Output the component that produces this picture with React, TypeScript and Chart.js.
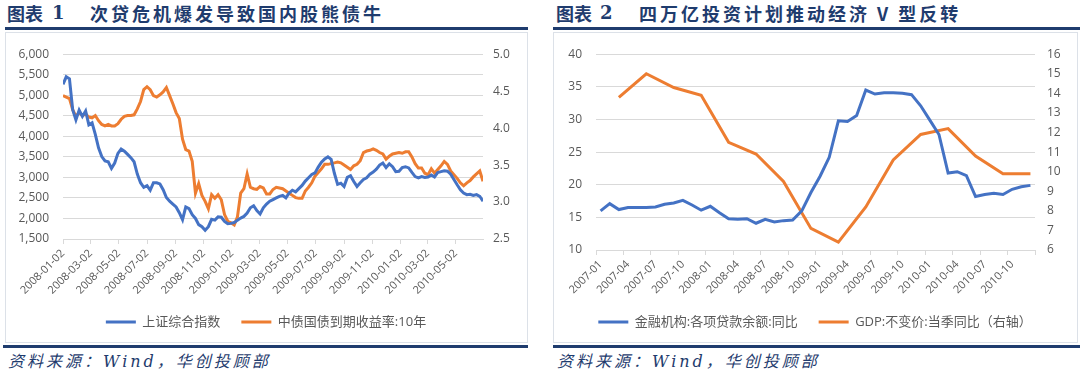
import React, { useEffect, useRef } from 'react';
import { Chart, registerables } from 'chart.js';
Chart.register(...registerables);

// ---------- Chart 1 data ----------
const weekDates = [
  '2008-01-02','2008-01-09','2008-01-16','2008-01-23','2008-01-30','2008-02-06','2008-02-13','2008-02-20','2008-02-27','2008-03-05',
  '2008-03-12','2008-03-19','2008-03-26','2008-04-02','2008-04-09','2008-04-16','2008-04-23','2008-04-30','2008-05-07','2008-05-14',
  '2008-05-21','2008-05-28','2008-06-04','2008-06-11','2008-06-18','2008-06-25','2008-07-02','2008-07-09','2008-07-16','2008-07-23',
  '2008-07-30','2008-08-06','2008-08-13','2008-08-20','2008-08-27','2008-09-03','2008-09-10','2008-09-17','2008-09-24','2008-10-01',
  '2008-10-08','2008-10-15','2008-10-22','2008-10-29','2008-11-05','2008-11-12','2008-11-19','2008-11-26','2008-12-03','2008-12-10',
  '2008-12-17','2008-12-24','2008-12-31','2009-01-07','2009-01-14','2009-01-21','2009-01-28','2009-02-04','2009-02-11','2009-02-18',
  '2009-02-25','2009-03-04','2009-03-11','2009-03-18','2009-03-25','2009-04-01','2009-04-08','2009-04-15','2009-04-22','2009-04-29',
  '2009-05-06','2009-05-13','2009-05-20','2009-05-27','2009-06-03','2009-06-10','2009-06-17','2009-06-24','2009-07-01','2009-07-08',
  '2009-07-15','2009-07-22','2009-07-29','2009-08-05','2009-08-12','2009-08-19','2009-08-26','2009-09-02','2009-09-09','2009-09-16',
  '2009-09-23','2009-09-30','2009-10-07','2009-10-14','2009-10-21','2009-10-28','2009-11-04','2009-11-11','2009-11-18','2009-11-25',
  '2009-12-02','2009-12-09','2009-12-16','2009-12-23','2009-12-30','2010-01-06','2010-01-13','2010-01-20','2010-01-27','2010-02-03',
  '2010-02-10','2010-02-17','2010-02-24','2010-03-03','2010-03-10','2010-03-17','2010-03-24','2010-03-31','2010-04-07','2010-04-14',
  '2010-04-21','2010-04-28','2010-05-05','2010-05-12','2010-05-19','2010-05-26','2010-06-02','2010-06-09','2010-06-16','2010-06-23',
  '2010-06-30',
];

const shIndex = [
  5266,5450,5400,4650,4400,4640,4484,4617,4280,4328,
  4050,3720,3508,3400,3380,3220,3350,3586,3690,3640,
  3560,3480,3380,3080,2870,2760,2800,2688,2870,2870,
  2840,2700,2510,2420,2350,2280,2140,1970,2280,2240,
  2090,2000,1850,1800,1711,1800,1980,1960,2040,2030,
  1930,1870,1880,1900,1960,2010,2050,2130,2260,2310,
  2190,2110,2260,2350,2420,2460,2500,2540,2560,2500,
  2620,2688,2648,2727,2805,2910,2990,3070,3110,3250,
  3370,3450,3500,3440,3100,2830,2860,2780,3000,3040,
  2900,2780,2870,2950,2990,3080,3130,3200,3300,3350,
  3240,3330,3260,3140,3150,3240,3260,3230,3120,3020,
  2990,3020,3000,3010,3060,3010,3120,3140,3160,3150,
  3080,2950,2820,2700,2620,2580,2590,2560,2580,2540,
  2420,
];

const cgb10y = [
  4.44,4.42,4.40,4.25,4.16,4.21,4.17,4.19,4.15,4.14,
  4.17,4.10,4.05,4.03,4.05,4.03,4.03,4.06,4.12,4.16,
  4.17,4.17,4.18,4.26,4.36,4.52,4.56,4.52,4.44,4.42,
  4.45,4.49,4.55,4.44,4.33,4.21,4.13,3.85,3.71,3.69,
  3.55,3.12,3.25,3.09,3.01,2.91,3.10,3.05,3.10,3.03,
  2.83,2.74,2.72,2.69,2.80,3.12,3.18,3.38,3.20,3.18,
  3.17,3.21,3.19,3.11,3.11,3.17,3.20,3.19,3.18,3.15,
  3.12,3.09,3.06,3.05,3.05,3.15,3.20,3.26,3.35,3.40,
  3.45,3.51,3.51,3.52,3.53,3.54,3.53,3.50,3.47,3.44,
  3.49,3.51,3.56,3.67,3.69,3.70,3.72,3.70,3.67,3.65,
  3.58,3.62,3.65,3.66,3.67,3.66,3.68,3.68,3.61,3.52,
  3.46,3.46,3.39,3.37,3.45,3.39,3.44,3.49,3.55,3.51,
  3.42,3.37,3.32,3.26,3.22,3.26,3.29,3.34,3.38,3.42,
  3.28,
];

const xTickLabels1 = [
  '2008-01-02','2008-03-02','2008-05-02','2008-07-02','2008-09-02','2008-11-02','2009-01-02','2009-03-02',
  '2009-05-02','2009-07-02','2009-09-02','2009-11-02','2010-01-02','2010-03-02','2010-05-02',
];
const axisStart1 = '2008-01-02';
const axisEnd1 = '2010-06-30';

// ---------- Chart 2 data ----------
const months = [
  '2007-01','2007-02','2007-03','2007-04','2007-05','2007-06','2007-07','2007-08','2007-09','2007-10','2007-11','2007-12',
  '2008-01','2008-02','2008-03','2008-04','2008-05','2008-06','2008-07','2008-08','2008-09','2008-10','2008-11','2008-12',
  '2009-01','2009-02','2009-03','2009-04','2009-05','2009-06','2009-07','2009-08','2009-09','2009-10','2009-11','2009-12',
  '2010-01','2010-02','2010-03','2010-04','2010-05','2010-06','2010-07','2010-08','2010-09','2010-10','2010-11','2010-12',
];
const loanYoY = [
  16.0,17.1,16.2,16.5,16.5,16.5,16.6,17.0,17.2,17.6,16.9,16.1,
  16.7,15.7,14.8,14.7,14.8,14.1,14.7,14.3,14.5,14.6,16.0,18.8,
  21.3,24.2,29.8,29.7,30.6,34.5,33.9,34.1,34.1,34.0,33.8,32.1,
  29.9,27.7,21.8,22.0,21.4,18.2,18.5,18.7,18.5,19.3,19.7,19.9,
];
const gdpYoY = [
  null,null,13.8, null,null,15.0, null,null,14.3, null,null,13.9,
  null,null,11.5, null,null,10.9, null,null,9.5, null,null,7.1,
  null,null,6.4, null,null,8.2, null,null,10.6, null,null,11.9,
  null,null,12.2, null,null,10.8, null,null,9.9, null,null,9.9,
];

// ---------- styling ----------
const BLUE = '#4472C4';
const ORANGE = '#ED7D31';
const GRID = '#d9d9d9';
const TEXT = '#595959';
const NAVY = '#1f3c6e';
const FONT = '"Open Sans", "Noto Sans CJK SC", sans-serif';
const CJK = '"Noto Sans CJK SC", sans-serif';

const dayOffset = (s: string) => {
  const [y, m, d] = s.split('-').map(Number);
  const [y0, m0, d0] = axisStart1.split('-').map(Number);
  return (Date.UTC(y, m - 1, d) - Date.UTC(y0, m0 - 1, d0)) / 86400000;
};

const legendOpts = {
  position: 'bottom' as const,
  labels: {
    usePointStyle: true,
    pointStyle: 'line',
    pointStyleWidth: 30,
    padding: 21,
    color: TEXT,
    font: { size: 13, family: FONT },
  },
};

function StockBondChart() {
  const ref = useRef<HTMLCanvasElement>(null);
  useEffect(() => {
    const chart = new Chart(ref.current!, {
      type: 'line',
      data: {
        datasets: [
          {
            label: '上证综合指数',
            data: weekDates.map((d, i) => ({ x: dayOffset(d), y: shIndex[i] })),
            borderColor: BLUE,
            backgroundColor: BLUE,
            borderWidth: 3,
            pointRadius: 0,
            tension: 0,
            yAxisID: 'y',
          },
          {
            label: '中债国债到期收益率:10年',
            data: weekDates.map((d, i) => ({ x: dayOffset(d), y: cgb10y[i] })),
            borderColor: ORANGE,
            backgroundColor: ORANGE,
            borderWidth: 3,
            pointRadius: 0,
            tension: 0,
            yAxisID: 'y1',
          },
        ],
      },
      options: {
        responsive: false,
        animation: false,
        layout: { padding: { top: 14, bottom: 3.5, left: 0, right: 0 } },
        plugins: { legend: legendOpts as any, tooltip: { enabled: false } },
        scales: {
          x: {
            type: 'linear',
            min: 0,
            max: dayOffset(axisEnd1),
            afterBuildTicks: (ax: any) => {
              ax.ticks = xTickLabels1.map((s) => ({ value: dayOffset(s) }));
            },
            afterFit: (s: any) => { s.height = 55.5; },
            ticks: {
              autoSkip: false,
              minRotation: 45,
              maxRotation: 45,
              color: TEXT,
              font: { size: 11, family: FONT },
              callback: (_v: any, i: number) => xTickLabels1[i],
            },
            grid: { drawOnChartArea: false, drawTicks: true, tickLength: 5, tickColor: GRID, color: GRID },
            border: { display: true, color: GRID },
          },
          y: {
            position: 'left',
            min: 1500,
            max: 6000,
            afterFit: (s: any) => { s.width = 57; },
            ticks: {
              stepSize: 500,
              padding: 14,
              color: TEXT,
              font: { size: 12, family: FONT },
              callback: (v: any) => Number(v).toLocaleString('en-US'),
            },
            grid: { color: GRID, drawTicks: false },
            border: { display: false },
          },
          y1: {
            position: 'right',
            min: 2.5,
            max: 5.0,
            afterFit: (s: any) => { s.width = 43; },
            ticks: {
              stepSize: 0.5,
              padding: 10,
              color: TEXT,
              font: { size: 12, family: FONT },
              callback: (v: any) => Number(v).toFixed(1),
            },
            grid: { drawOnChartArea: false, drawTicks: false },
            border: { display: false },
          },
        },
      } as any,
    });
    return () => chart.destroy();
  }, []);
  return <canvas ref={ref} width={520} height={309} style={{ position: 'absolute', left: 6, top: 33 }} />;
}

function LoanGdpChart() {
  const ref = useRef<HTMLCanvasElement>(null);
  useEffect(() => {
    const chart = new Chart(ref.current!, {
      type: 'line',
      data: {
        labels: months,
        datasets: [
          {
            label: '金融机构:各项贷款余额:同比',
            data: loanYoY,
            borderColor: BLUE,
            backgroundColor: BLUE,
            borderWidth: 3,
            pointRadius: 0,
            tension: 0,
            yAxisID: 'y',
          },
          {
            label: 'GDP:不变价:当季同比（右轴）',
            data: gdpYoY,
            borderColor: ORANGE,
            backgroundColor: ORANGE,
            borderWidth: 3,
            pointRadius: 0,
            tension: 0,
            spanGaps: true,
            yAxisID: 'y1',
          },
        ],
      },
      options: {
        responsive: false,
        animation: false,
        layout: { padding: { top: 14, bottom: 3.5, left: 0, right: 0 } },
        plugins: { legend: legendOpts as any, tooltip: { enabled: false } },
        scales: {
          x: {
            type: 'category',
            offset: true,
            afterFit: (s: any) => { s.height = 44.5; },
            ticks: {
              autoSkip: false,
              minRotation: 45,
              maxRotation: 45,
              color: TEXT,
              font: { size: 11, family: FONT },
              callback: (_v: any, i: number) => (i % 3 === 0 ? months[i] : ''),
            },
            grid: {
              offset: true,
              drawOnChartArea: false,
              drawTicks: true,
              tickLength: 5,
              color: GRID,
              tickColor: (c: any) => (c.index === undefined || c.index % 3 === 0 ? GRID : 'rgba(0,0,0,0)'),
            },
            border: { display: true, color: GRID },
          },
          y: {
            position: 'left',
            min: 10,
            max: 40,
            afterFit: (s: any) => { s.width = 42; },
            ticks: { stepSize: 5, padding: 14, color: TEXT, font: { size: 12, family: FONT } },
            grid: { color: GRID, drawTicks: false },
            border: { display: false },
          },
          y1: {
            position: 'right',
            min: 6,
            max: 16,
            afterFit: (s: any) => { s.width = 41; },
            ticks: { stepSize: 1, padding: 12, color: TEXT, font: { size: 12, family: FONT } },
            grid: { drawOnChartArea: false, drawTicks: false },
            border: { display: false },
          },
        },
      } as any,
    });
    return () => chart.destroy();
  }, []);
  return <canvas ref={ref} width={522} height={309} style={{ position: 'absolute', left: 554, top: 33 }} />;
}

const titleStyle: React.CSSProperties = {
  position: 'absolute',
  top: 2,
  height: 22,
  lineHeight: '22px',
  fontFamily: CJK,
  fontWeight: 700,
  fontSize: 18,
  color: NAVY,
  whiteSpace: 'nowrap',
};
const noteStyle: React.CSSProperties = {
  position: 'absolute',
  top: 352,
  height: 20,
  lineHeight: '20px',
  fontFamily: '"DejaVu Serif", ' + CJK,
  fontStyle: 'italic',
  fontSize: 16,
  letterSpacing: 3,
  color: NAVY,
  whiteSpace: 'nowrap',
};
const rule = (left: number, top: number, width: number): React.CSSProperties => ({
  position: 'absolute', left, top, width, height: 3, background: NAVY,
});
const box = (left: number, width: number): React.CSSProperties => ({
  position: 'absolute', left, top: 32, width: width - 2, height: 309, border: '1px solid #dce1e8',
});

export default function App() {
  return (
    <div style={{ position: 'absolute', left: 0, top: 0, width: 1080, height: 377, background: '#fff', overflow: 'hidden' }}>
      <div style={{ ...titleStyle, left: 7 }}>图表</div>
      <div style={{ ...titleStyle, left: 52, fontFamily: '"DejaVu Serif", serif' }}>1</div>
      <div style={{ ...titleStyle, left: 90, letterSpacing: 3 }}>次贷危机爆发导致国内股熊债牛</div>
      <div style={rule(5, 27, 523)} />
      <div style={box(5, 523)} />
      <StockBondChart />
      <div style={rule(3, 345, 525)} />
      <div style={{ ...noteStyle, left: 8 }}>资料来源：Wind，华创投顾部</div>

      <div style={{ ...titleStyle, left: 556 }}>图表</div>
      <div style={{ ...titleStyle, left: 600, fontFamily: '"DejaVu Serif", serif' }}>2</div>
      <div style={{ ...titleStyle, left: 639, letterSpacing: 3 }}>四万亿投资计划推动经济 V 型反转</div>
      <div style={rule(553, 27, 527)} />
      <div style={box(553, 525)} />
      <LoanGdpChart />
      <div style={rule(553, 345, 527)} />
      <div style={{ ...noteStyle, left: 557 }}>资料来源：Wind，华创投顾部</div>
    </div>
  );
}
